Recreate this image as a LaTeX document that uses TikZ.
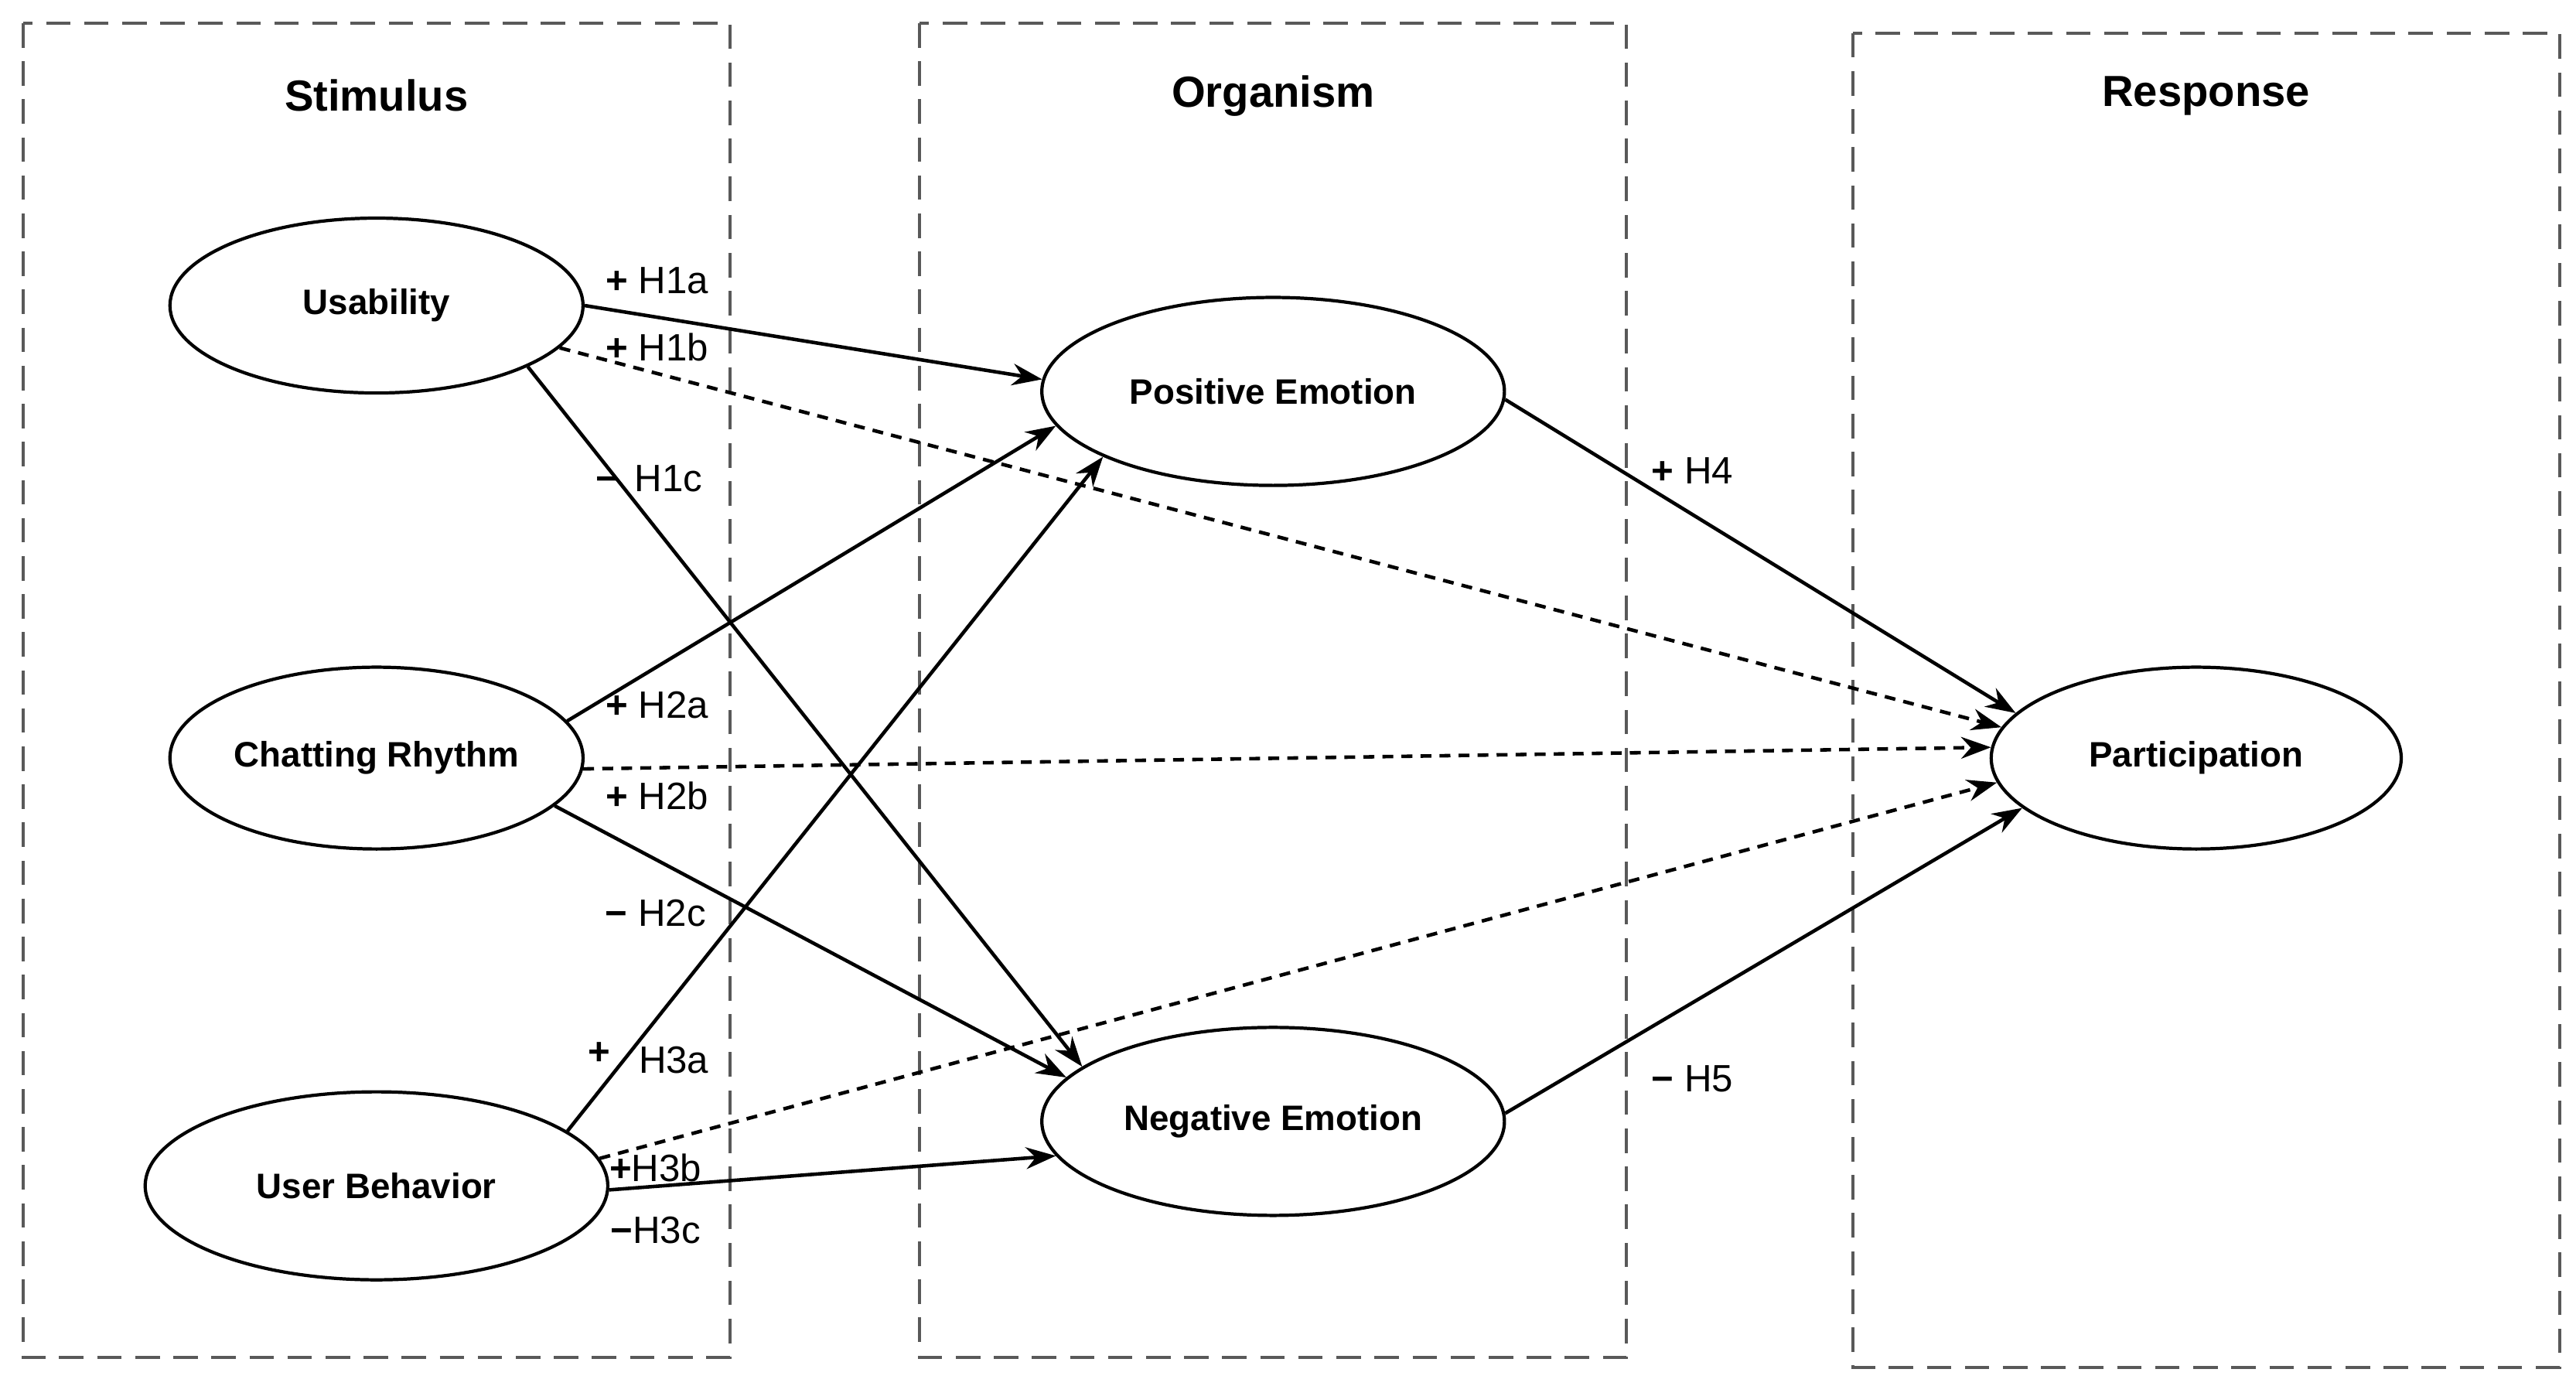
\documentclass[tikz,border=0pt]{standalone}
\usepackage{fontspec}
\setmainfont{Liberation Sans}
\usetikzlibrary{arrows.meta,shapes.geometric}
\begin{document}
\begin{tikzpicture}[x=0.02135cm,y=-0.02135cm,
  frame/.style={draw=black!65,dashed,dash pattern=on 9pt off 5pt,line width=1.1pt},
  title/.style={font=\bfseries\fontsize{16}{18}\selectfont},
  ell/.style={draw,ellipse,line width=1.2pt,inner sep=0pt,font=\bfseries\fontsize{13}{15}\selectfont},
  arr/.style={line width=1.3pt,-{Stealth[length=11pt,width=8pt]}},
  darr/.style={arr,dashed,dash pattern=on 4pt off 3pt},
  lab/.style={font=\fontsize{14}{16}\selectfont,anchor=center}]
\useasboundingbox (0,0) rectangle (1560,843);
\draw[frame] (14,14) rectangle (442,822);
\draw[frame] (557,14) rectangle (985,822);
\draw[frame] (1122,20) rectangle (1550,828);
\node[title] (t1) at (228,58) {Stimulus};
\node[title] (t2) at (771,58) {Organism};
\node[title] (t3) at (1336,58) {Response};
\node[ell,minimum width=5.34cm,minimum height=2.26cm] (U) at (228,185) {Usability};
\node[ell,minimum width=5.34cm,minimum height=2.35cm] (C) at (228,459) {Chatting Rhythm};
\node[ell,minimum width=5.98cm,minimum height=2.43cm] (B) at (228,718) {User Behavior};
\node[ell,minimum width=5.98cm,minimum height=2.43cm] (P) at (771,237) {Positive Emotion};
\node[ell,minimum width=5.98cm,minimum height=2.43cm] (N) at (771,679) {Negative Emotion};
\node[ell,minimum width=5.30cm,minimum height=2.35cm] (R) at (1330,459) {Participation};
\draw[arr] (U.0) -- (P.177);
\draw[darr] (U.-13) -- (R.171);
\draw[arr] (U.-22) -- (N.164);
\draw[arr] (C.11) -- (P.-171);
\draw[darr] (C.-3) -- (R.177);
\draw[arr] (C.-15) -- (N.168);
\draw[arr] (B.16) -- (P.-159);
\draw[darr] (B.7) -- (R.-173);
\draw[arr] (B.-1) -- (N.-171);
\draw[arr] (P.-2) -- (R.166);
\draw[arr] (N.2) -- (R.-164);
\node[lab] (l1) at (398,170) {\textbf{+} H1a};
\node[lab] (l2) at (398,210) {\textbf{+} H1b};
\node[lab] (l3) at (393,290) {\textbf{−}\, H1c};
\node[lab] (l4) at (398,427) {\textbf{+} H2a};
\node[lab] (l5) at (398,482) {\textbf{+} H2b};
\node[lab] (l6) at (397,553) {\textbf{−} H2c};
\node[lab] (l7a) at (363,638) {\textbf{+}};
\node[lab] (l7) at (408,642) {H3a};
\node[lab] (l8) at (397,707) {\textbf{+}H3b};
\node[lab] (l9) at (397,745) {\textbf{−}H3c};
\node[lab] (l10) at (1025,285) {\textbf{+} H4};
\node[lab] (l11) at (1025,653) {\textbf{−} H5};
\end{tikzpicture}
\end{document}
